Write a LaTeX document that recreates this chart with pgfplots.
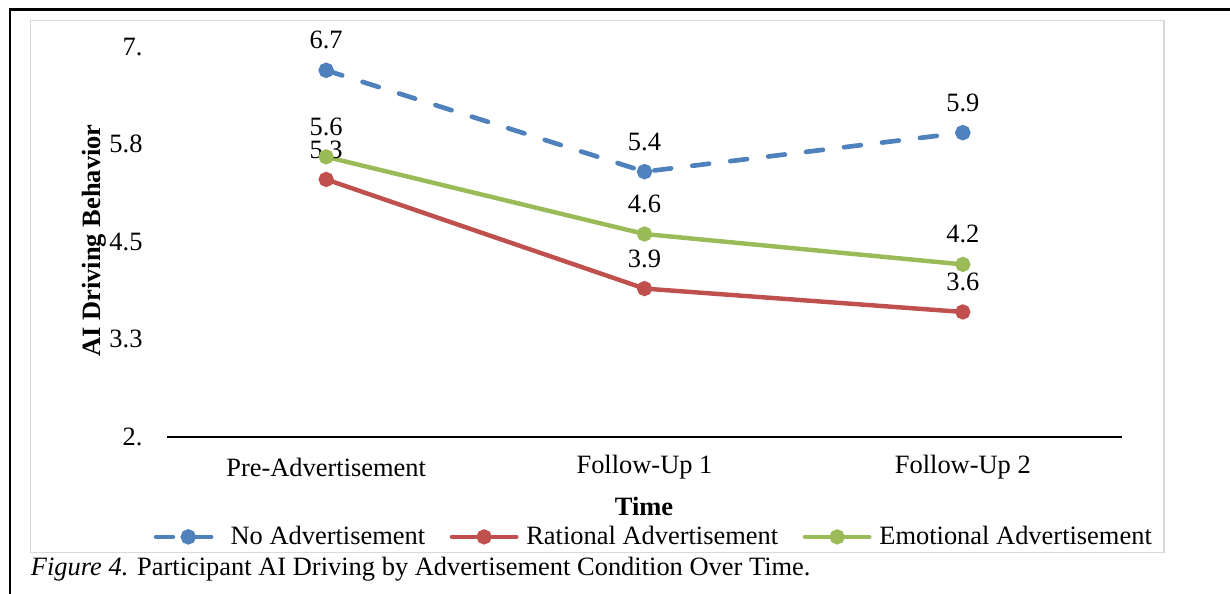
\documentclass[border=0pt]{standalone}
\usepackage{fontspec}
\setmainfont{Liberation Serif}
\usepackage{pgfplots}
\pgfplotsset{compat=1.18}

\definecolor{cblue}{HTML}{4F81BD}
\definecolor{cred}{HTML}{C0504D}
\definecolor{cgreen}{HTML}{9BBB59}
\definecolor{cgray}{HTML}{D9D9D9}

\pgfplotstableread{
x y lab
0 6.70 6.7
1 5.40 5.4
2 5.90 5.9
}\noad
\pgfplotstableread{
x y lab
0 5.30 5.3
1 3.90 3.9
2 3.60 3.6
}\rational
\pgfplotstableread{
x y lab
0 5.59 5.6
1 4.60 4.6
2 4.21 4.2
}\emotional

\begin{document}
\fontsize{11.9pt}{14pt}\selectfont
\begin{tikzpicture}
\begin{scope}[x=0.45pt,y=-0.45pt]
\path[use as bounding box] (0,0) rectangle (1230,594);
\draw[black, line width=1.1pt] (10,600) -- (10,9.3) -- (1240,9.3);
\draw[cgray, line width=0.6pt] (30.5,20.5) rectangle (1164,552.5);
\coordinate (A) at (167,436.7);
\node[rotate=90, anchor=base, inner sep=0pt, font=\bfseries] at (100,240.5) {AI Driving Behavior};
\node[anchor=base, inner sep=0pt, font=\bfseries] at (644,515) {Time};
\node[anchor=base west, inner sep=0pt] at (30.5,575) {\textit{Figure 4.} Participant AI Driving by Advertisement Condition Over Time.};
\end{scope}

\begin{axis}[
  at={(A)}, anchor=south west,
  scale only axis,
  width=429.75pt, height=175.4pt,
  xmin=-0.5, xmax=2.5, ymin=2, ymax=7,
  axis x line=bottom, axis y line=left,
  x axis line style={-, black, line width=1pt},
  y axis line style={draw=none},
  tick style={draw=none},
  major tick length=0pt,
  xtick={0,1,2},
  xticklabels={Pre-Advertisement, Follow-Up 1, Follow-Up 2},
  ytick={2,3.25,4.5,5.75,7},
  yticklabels={2., 3.3, 4.5, 5.8, 7.},
  xticklabel style={anchor=center, inner sep=0pt, yshift=-13.8pt},
  yticklabel style={anchor=east, inner sep=0pt, xshift=-10.8pt},
  clip=false,
  nodes near coords,
  point meta=explicit symbolic,
  every node near coord/.append style={anchor=center, inner sep=1pt, yshift=13.5pt, black},
  legend columns=3,
  legend style={draw=none, fill=none, at={(0.511,-0.257)}, anchor=center,
    /tikz/every odd column/.append style={column sep=1.5pt},
    /tikz/every even column/.append style={column sep=9pt},
    inner sep=0pt, row sep=0pt},
  legend image code/.code={%
    \draw[#1, mark repeat=2, mark phase=2] plot coordinates {(0pt,0pt) (14.5pt,0pt) (29pt,0pt)};},
]
\addplot[cblue, line width=2.1pt, dash pattern=on 7.6pt off 9.6pt, line cap=round,
  mark=*, mark size=2.4pt, mark options={solid}] table[x=x, y=y, meta=lab] {\noad};
\addlegendentry{No Advertisement}
\addplot[cred, line width=2pt, line cap=round,
  mark=*, mark size=2.4pt] table[x=x, y=y, meta=lab] {\rational};
\addlegendentry{Rational Advertisement}
\addplot[cgreen, line width=2pt, line cap=round,
  mark=*, mark size=2.4pt] table[x=x, y=y, meta=lab] {\emotional};
\addlegendentry{Emotional Advertisement}
\end{axis}
\end{tikzpicture}
\end{document}
